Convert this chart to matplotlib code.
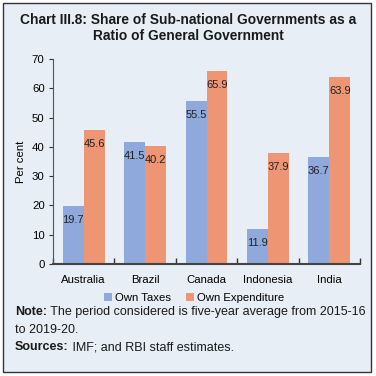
import numpy as np
import matplotlib
matplotlib.use('Agg')
import matplotlib.pyplot as plt
from matplotlib.patches import Rectangle

countries = ['Australia', 'Brazil', 'Canada', 'Indonesia', 'India']
own_taxes = [19.7, 41.5, 55.5, 11.9, 36.7]
own_expenditure = [45.6, 40.2, 65.9, 37.9, 63.9]
series_names = ['Own Taxes', 'Own Expenditure']

BG = '#e8eef5'
C_BLUE = '#8fa9dc'
C_ORANGE = '#ee9673'
TXT = '#1a1a1a'

plt.rcParams['font.family'] = ['Liberation Sans', 'DejaVu Sans']

W, H = 376, 376
fig = plt.figure(figsize=(W / 100, H / 100), dpi=100)
fig.patch.set_facecolor('white')

# outer panel with border
fig.patches.append(Rectangle((3 / W, 1 - 372 / H), 368 / W, 369 / H,
                             transform=fig.transFigure, facecolor=BG,
                             edgecolor='#333333', lw=1.0, zorder=-10))

fig.text(188 / W, 1 - 20 / H,
         'Chart III.8: Share of Sub-national Governments as a',
         ha='center', va='center', fontsize=9.9, fontweight='bold', color=TXT)
fig.text(188 / W, 1 - 36 / H, 'Ratio of General Government',
         ha='center', va='center', fontsize=9.9, fontweight='bold', color=TXT)

# axes: x from 53 to 360 px, y=0 at 264, y=70 at 59
ax = fig.add_axes([53 / W, 1 - 264 / H, 307 / W, 205 / H])
ax.set_facecolor(BG)

x = np.arange(len(countries))
bw = 0.34
b1 = ax.bar(x - bw / 2, own_taxes, bw, color=C_BLUE, label=series_names[0], zorder=2)
b2 = ax.bar(x + bw / 2, own_expenditure, bw, color=C_ORANGE, label=series_names[1], zorder=2)

for bars, vals in ((b1, own_taxes), (b2, own_expenditure)):
    for r, v in zip(bars, vals):
        ax.annotate('%.1f' % v, (r.get_x() + r.get_width() / 2, v),
                    xytext=(0, -14), textcoords='offset pixels',
                    ha='center', va='center', fontsize=8, color='#222222', zorder=3)

ax.set_xlim(-0.5, len(countries) - 0.5)
ax.set_ylim(0, 70)
ax.set_yticks(range(0, 71, 10))
ax.set_xticks(x)
ax.set_xticklabels(countries, fontsize=8.2)
ax.set_xticks(np.arange(-0.5, len(countries), 1), minor=True)
ax.tick_params(axis='x', which='major', length=0, pad=8)
ax.tick_params(axis='x', which='minor', length=4, direction='in', width=1, color='#333333')
ax.tick_params(axis='y', labelsize=8.2, length=3, direction='out', width=0.8, color='#333333', pad=3)
for s in ('top', 'right'):
    ax.spines[s].set_visible(False)
ax.spines['left'].set_color('#555555')
ax.spines['left'].set_linewidth(0.8)
ax.spines['bottom'].set_color('#444444')
ax.spines['bottom'].set_linewidth(1.5)
ax.set_ylabel('Per cent', fontsize=8.2, labelpad=4)

fig.legend(loc='center', bbox_to_anchor=(194 / W, 1 - 298 / H),
           ncol=2, frameon=False, fontsize=8.2, handlelength=0.7, handleheight=0.7,
           handletextpad=0.25, columnspacing=1.3)

FS = 9.0
t1 = fig.text(15 / W, 1 - 312 / H, 'Note:', fontsize=FS, fontweight='bold', va='center', color=TXT)
ax.annotate(' The period considered is five-year average from 2015-16',
            xy=(1, 0.5), xycoords=t1, va='center', fontsize=FS, color=TXT,
            annotation_clip=False)
fig.text(15 / W, 1 - 330 / H, 'to 2019-20.', fontsize=FS, va='center', color=TXT)
t2 = fig.text(15 / W, 1 - 347 / H, 'Sources:', fontsize=FS, fontweight='bold', va='center', color=TXT)
ax.annotate(' IMF; and RBI staff estimates.',
            xy=(1, 0.5), xycoords=t2, va='center', fontsize=FS, color=TXT,
            annotation_clip=False)

fig.savefig('out.png', dpi=100, facecolor=fig.get_facecolor())
